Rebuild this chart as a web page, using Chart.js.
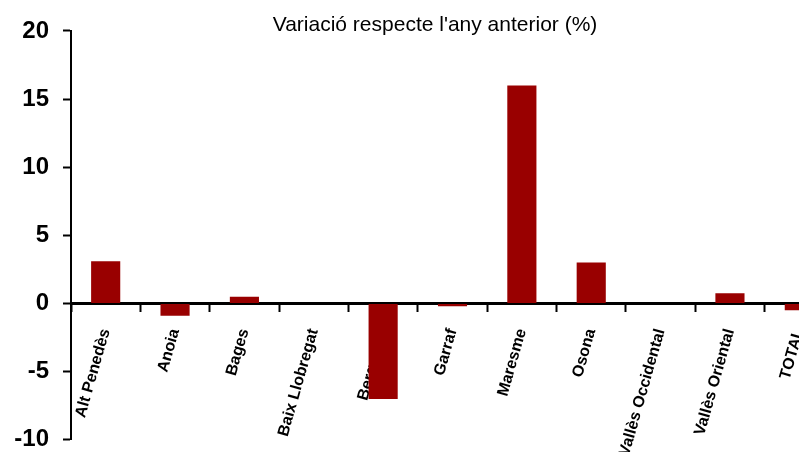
<!DOCTYPE html>
<html>
<head>
<meta charset="utf-8">
<script src="https://cdn.jsdelivr.net/npm/chart.js@4/dist/chart.umd.min.js"></script>
<style>
  html, body { margin: 0; padding: 0; background: #fff; overflow: hidden; }
  #wrap { width: 799px; height: 452px; overflow: hidden; }
</style>
</head>
<body>
<div id="wrap"><canvas id="chart" width="870" height="455"></canvas></div>
<script>
const comarques = ['Alt Penedès', 'Anoia', 'Bages', 'Baix Llobregat', 'Berguedà', 'Garraf', 'Maresme', 'Osona', 'Vallès Occidental', 'Vallès Oriental', 'TOTAL']
const variacio = [3.1, -0.9, 0.5, 0, -7.0, -0.2, 16.0, 3.0, 0, 0.75, -0.5]
const yMin = -10
const yMax = 20
const yStep = 5

const ctx = document.getElementById('chart').getContext('2d')
new Chart(ctx, {
  type: 'bar',
  data: {
    labels: comarques,
    datasets: [{
      data: variacio,
      backgroundColor: '#990000',
      borderWidth: 0,
      barPercentage: 0.42,
      categoryPercentage: 1
    }]
  },
  options: {
    responsive: false,
    animation: false,
    layout: { padding: { left: 12, right: 12, top: 0, bottom: 12 } },
    plugins: {
      legend: { display: false },
      tooltip: { enabled: false },
      title: {
        display: true,
        text: "Variació respecte l'any anterior (%)",
        color: '#000',
        font: { family: 'Liberation Sans, Arial, sans-serif', size: 21, weight: 'normal', lineHeight: 0.9 },
        padding: { top: 16, bottom: -4 }
      }
    },
    scales: {
      x: {
        position: { y: 0 },
        border: { display: true, color: '#000', width: 3 },
        grid: { display: true, drawOnChartArea: false, drawTicks: true, tickLength: 7, tickWidth: 2, tickColor: '#000', offset: true },
        ticks: {
          autoSkip: false,
          minRotation: 74,
          maxRotation: 74,
          padding: 16,
          color: '#000',
          font: { family: 'Liberation Sans, Arial, sans-serif', size: 16, weight: 'bold' }
        }
      },
      y: {
        min: yMin,
        max: yMax,
        afterFit: (scale) => { scale.width = 59 },
        border: { display: true, color: '#000', width: 2 },
        grid: { display: true, drawOnChartArea: false, drawTicks: true, tickLength: 8, tickWidth: 2, tickColor: '#000' },
        ticks: {
          stepSize: yStep,
          padding: 14,
          color: '#000',
          font: { family: 'Liberation Sans, Arial, sans-serif', size: 24, weight: 'bold', lineHeight: 0.1 }
        }
      },
      // empty right-hand spacer so the title sits where it does in the original
      y2: {
        position: 'right',
        display: true,
        grid: { display: false },
        border: { display: false },
        ticks: { display: false },
        afterFit: (scale) => { scale.width = 24 }
      }
    }
  }
})
</script>
</body>
</html>
